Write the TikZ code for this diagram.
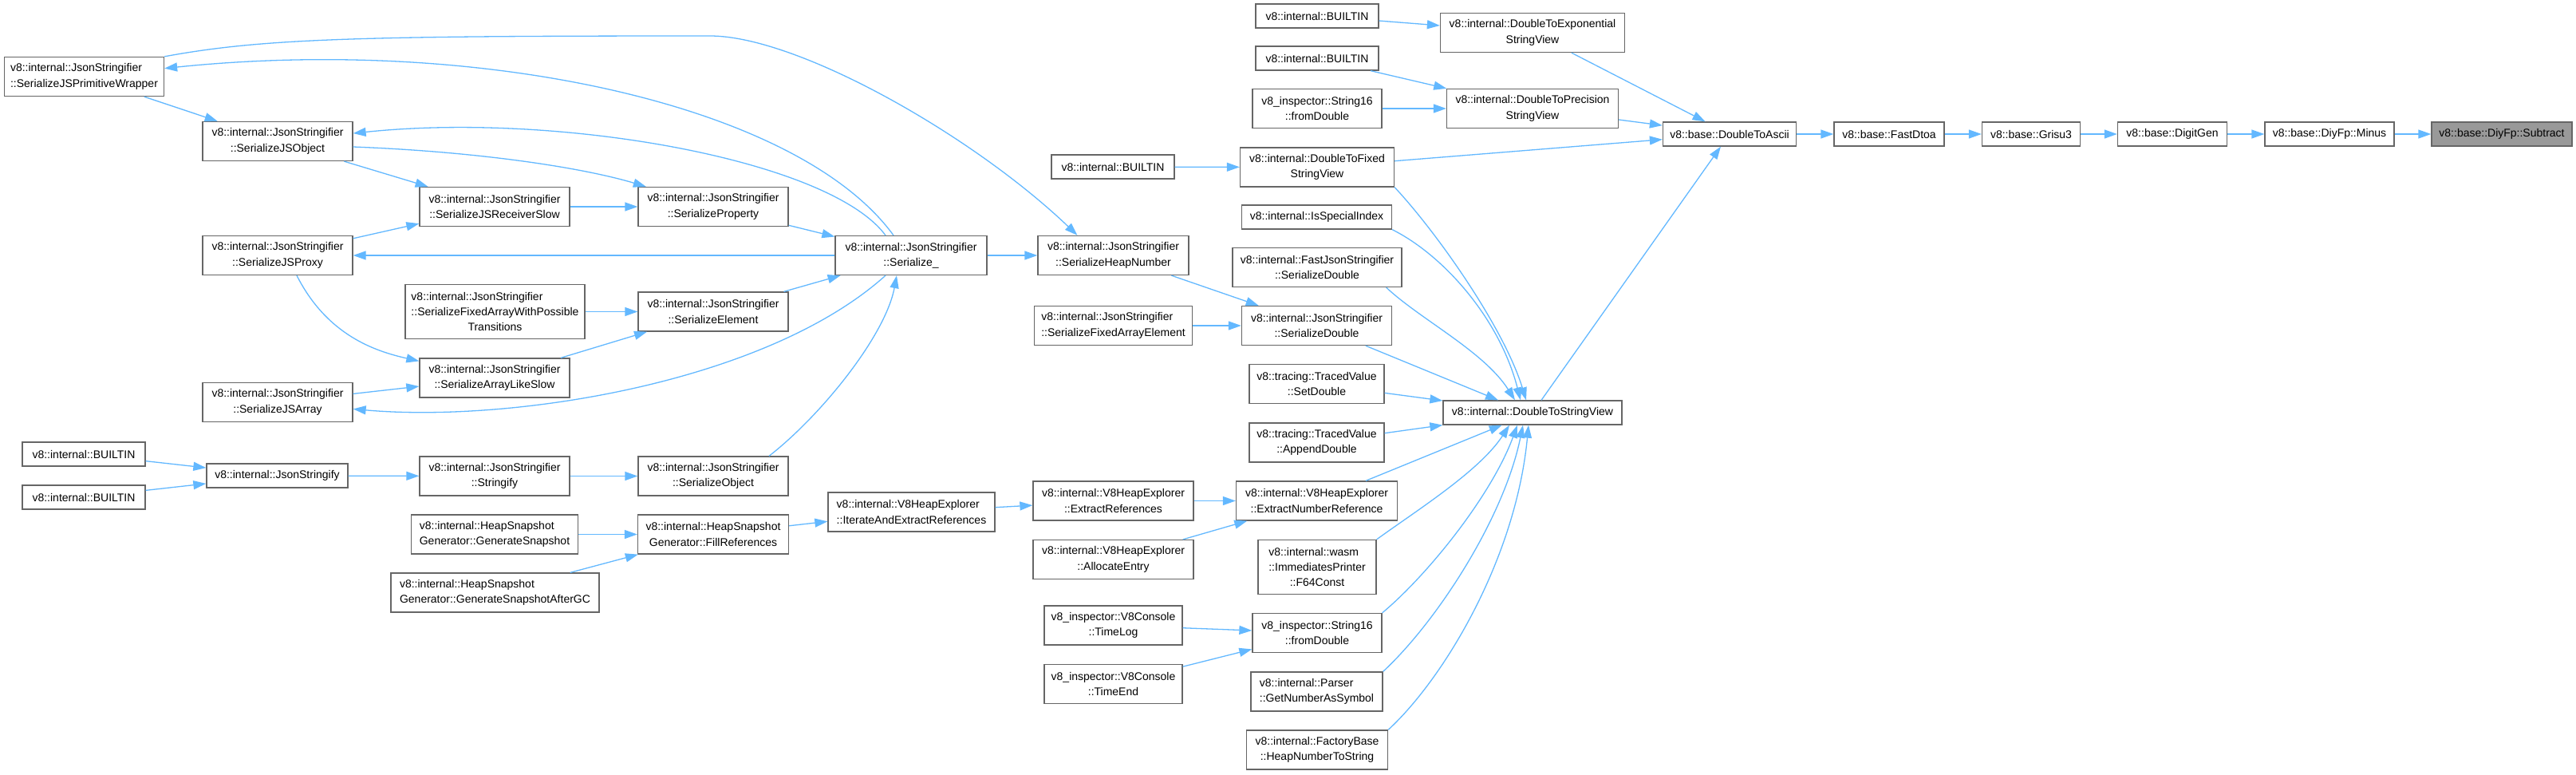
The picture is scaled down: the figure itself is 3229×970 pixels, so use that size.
\documentclass[tikz,border=0pt]{standalone}
\usepackage{fontspec}
\setmainfont{Liberation Sans}
\usetikzlibrary{arrows.meta}
\definecolor{edgeblue}{HTML}{63B8FF}
\definecolor{boxgray}{HTML}{666666}
\definecolor{focusgray}{HTML}{999999}
\newlength{\lfw}
\newcommand{\lfirst}[2]{\settowidth{\lfw}{#2}\makebox[\lfw][l]{#1}\\#2}

\begin{document}
\begin{tikzpicture}[x=1pt, y=-1pt]
    \tikzset{func/.style={rectangle, draw=boxgray, fill=white, line width=1.3pt, align=center, inner sep=0pt, minimum height=30pt, font=\fontsize{14}{19.3}\selectfont},
        focus/.style={func, fill=focusgray},
        lines2/.style={minimum height=49pt},
        lines3/.style={minimum height=68pt},
        calls/.style={draw=edgeblue, line width=1.3pt, -{Triangle[length=16pt, width=11pt]}}}
    \useasboundingbox (0,0) rectangle (3229,970);

    \node[focus, minimum width=176pt] (subtract) at (3136,168) {v8::base::DiyFp::Subtract};
    \node[func, minimum width=162pt] (minus) at (2920,168) {v8::base::DiyFp::Minus};
    \node[func, minimum width=137pt] (digitgen) at (2723,168) {v8::base::DigitGen};
    \node[func, minimum width=123pt] (grisu) at (2546,168) {v8::base::Grisu3};
    \node[func, minimum width=138pt] (fastdtoa) at (2368,168) {v8::base::FastDtoa};
    \node[func, minimum width=167pt] (dtoascii) at (2168,168) {v8::base::DoubleToAscii};

    \node[func, lines2, minimum width=231pt] (dtexp) at (1921,41) {v8::internal::DoubleToExponential\\StringView};
    \node[func, lines2, minimum width=215pt] (dtprec) at (1921,136) {v8::internal::DoubleToPrecision\\StringView};
    \node[func, lines2, minimum width=193pt] (dtfixed) at (1651,209.5) {v8::internal::DoubleToFixed\\StringView};
    \node[func, minimum width=224pt] (dtsv) at (1921,517) {v8::internal::DoubleToStringView};

    \node[func, minimum width=154pt] (builtina) at (1651,20) {v8::internal::BUILTIN};
    \node[func, minimum width=154pt] (builtinb) at (1651,73) {v8::internal::BUILTIN};
    \node[func, lines2, minimum width=162pt] (s16top) at (1651,136) {v8\_inspector::String16\\::fromDouble};
    \node[func, minimum width=154pt] (builtinc) at (1395,209) {v8::internal::BUILTIN};
    \node[func, minimum width=188pt] (isspecial) at (1650.5,272) {v8::internal::IsSpecialIndex};
    \node[func, lines2, minimum width=212pt] (fastjsd) at (1651,335) {v8::internal::FastJsonStringifier\\::SerializeDouble};
    \node[func, lines2, minimum width=188pt] (jsd) at (1650.5,408) {v8::internal::JsonStringifier\\::SerializeDouble};
    \node[func, lines2, minimum width=189pt] (heapnum) at (1395.5,320) {v8::internal::JsonStringifier\\::SerializeHeapNumber};
    \node[func, lines2, minimum width=198pt] (fixedelem) at (1395.5,408) {\lfirst{v8::internal::JsonStringifier}{::SerializeFixedArrayElement}};
    \node[func, lines2, minimum width=169pt] (setdbl) at (1650.5,481) {v8::tracing::TracedValue\\::SetDouble};
    \node[func, lines2, minimum width=169pt] (appdbl) at (1650.5,554.5) {v8::tracing::TracedValue\\::AppendDouble};
    \node[func, lines2, minimum width=202pt] (numref) at (1650.5,627.5) {v8::internal::V8HeapExplorer\\::ExtractNumberReference};
    \node[func, lines2, minimum width=201pt] (extrefs) at (1395.5,627.5) {v8::internal::V8HeapExplorer\\::ExtractReferences};
    \node[func, lines2, minimum width=201pt] (allocent) at (1395.5,701) {v8::internal::V8HeapExplorer\\::AllocateEntry};
    \node[func, lines2, minimum width=209pt] (iterext) at (1142.5,641.5) {\lfirst{v8::internal::V8HeapExplorer}{::IterateAndExtractReferences}};
    \node[func, lines3, minimum width=148pt] (f64const) at (1651,710.5) {\lfirst{v8::internal::wasm}{::ImmediatesPrinter}\\::F64Const};
    \node[func, lines2, minimum width=173pt] (timelog) at (1395.5,783.5) {v8\_inspector::V8Console\\::TimeLog};
    \node[func, lines2, minimum width=162pt] (s16bot) at (1651,793) {v8\_inspector::String16\\::fromDouble};
    \node[func, lines2, minimum width=173pt] (timeend) at (1395.5,857) {v8\_inspector::V8Console\\::TimeEnd};
    \node[func, lines2, minimum width=165pt] (getnum) at (1650.5,866.5) {\lfirst{v8::internal::Parser}{::GetNumberAsSymbol}};
    \node[func, lines2, minimum width=177pt] (heapstr) at (1651,939.5) {v8::internal::FactoryBase\\::HeapNumberToString};

    \node[func, lines2, minimum width=190pt] (serialize) at (1142,320) {v8::internal::JsonStringifier\\::Serialize\_};
    \node[func, lines2, minimum width=200pt] (primwrap) at (105.5,96) {\lfirst{v8::internal::JsonStringifier}{::SerializeJSPrimitiveWrapper}};
    \node[func, lines2, minimum width=188pt] (jsobject) at (348,177) {v8::internal::JsonStringifier\\::SerializeJSObject};
    \node[func, lines2, minimum width=188pt] (recvslow) at (620,259) {v8::internal::JsonStringifier\\::SerializeJSReceiverSlow};
    \node[func, lines2, minimum width=188pt] (property) at (894,259) {v8::internal::JsonStringifier\\::SerializeProperty};
    \node[func, lines2, minimum width=188pt] (jsproxy) at (348,320) {v8::internal::JsonStringifier\\::SerializeJSProxy};
    \node[func, lines3, minimum width=225pt] (possible) at (620.5,390.5) {\lfirst{v8::internal::JsonStringifier}{::SerializeFixedArrayWithPossible}\\Transitions};
    \node[func, lines2, minimum width=188pt] (element) at (894,390.5) {v8::internal::JsonStringifier\\::SerializeElement};
    \node[func, lines2, minimum width=188pt] (arraylike) at (620,473.5) {v8::internal::JsonStringifier\\::SerializeArrayLikeSlow};
    \node[func, lines2, minimum width=188pt] (jsarray) at (348,504) {v8::internal::JsonStringifier\\::SerializeJSArray};
    \node[func, minimum width=154pt] (builtind) at (105,569) {v8::internal::BUILTIN};
    \node[func, minimum width=154pt] (builtine) at (105,623) {v8::internal::BUILTIN};
    \node[func, minimum width=177pt] (jsonstringify) at (347.5,596) {v8::internal::JsonStringify};
    \node[func, lines2, minimum width=188pt] (stringify) at (620,596.5) {v8::internal::JsonStringifier\\::Stringify};
    \node[func, lines2, minimum width=188pt] (serobject) at (894,596.5) {v8::internal::JsonStringifier\\::SerializeObject};
    \node[func, lines2, minimum width=209pt] (gensnap) at (620,669.5) {\lfirst{v8::internal::HeapSnapshot}{Generator::GenerateSnapshot}};
    \node[func, lines2, minimum width=189pt] (fillrefs) at (894,669.5) {v8::internal::HeapSnapshot\\Generator::FillReferences};
    \node[func, lines2, minimum width=261pt] (gensnapgc) at (620.5,742.5) {\lfirst{v8::internal::HeapSnapshot}{Generator::GenerateSnapshotAfterGC}};

    \draw[calls] (dtoascii) -- (fastdtoa);
    \draw[calls] (fastdtoa) -- (grisu);
    \draw[calls] (grisu) -- (digitgen);
    \draw[calls] (digitgen) -- (minus);
    \draw[calls] (minus) -- (subtract);
    \draw[calls] (dtexp) -- (dtoascii);
    \draw[calls] (dtprec) -- (dtoascii);
    \draw[calls] (dtfixed) -- (dtoascii);
    \draw[calls] (dtsv) -- (dtoascii);
    \draw[calls] (builtina) -- (dtexp);
    \draw[calls] (builtinb) -- (dtprec);
    \draw[calls] (s16top) -- (dtprec);
    \draw[calls] (builtinc) -- (dtfixed);

    \draw[calls] (dtfixed.south east) .. controls (1800,290) and (1885,410) .. ([xshift=-8pt]dtsv.north);
    \draw[calls] (isspecial.south east) .. controls (1810,320) and (1880,400) .. ([xshift=-15pt]dtsv.north);
    \draw[calls] ([xshift=-20pt]fastjsd.south east) .. controls (1780,400) and (1860,440) .. ([xshift=-22pt]dtsv.north);
    \draw[calls] (jsd) -- ([xshift=-43pt]dtsv.north);
    \draw[calls] (setdbl) -- (dtsv);
    \draw[calls] (appdbl) -- (dtsv);
    \draw[calls] (numref) -- (dtsv);
    \draw[calls] (f64const.north east) .. controls (1775,640) and (1855,590) .. ([xshift=-29pt]dtsv.south);
    \draw[calls] (s16bot.north east) .. controls (1790,720) and (1870,620) .. ([xshift=-19pt]dtsv.south);
    \draw[calls] (getnum.north east) .. controls (1800,780) and (1885,650) .. ([xshift=-12pt]dtsv.south);
    \draw[calls] (heapstr.north east) .. controls (1810,850) and (1900,700) .. ([xshift=-5pt]dtsv.south);

    \draw[calls] (heapnum) -- (jsd);
    \draw[calls] (fixedelem) -- (jsd);
    \draw[calls] (serialize) -- (heapnum);
    \draw[calls] (primwrap.north east) .. controls (330,48) and (450,45) .. (890,45) .. controls (1000,45) and (1220,170) .. ([xshift=-45pt]heapnum.north);
    \draw[calls] (extrefs) -- (numref);
    \draw[calls] (allocent) -- (numref);
    \draw[calls] (iterext) -- (extrefs);
    \draw[calls] (fillrefs) -- (iterext);
    \draw[calls] (gensnap) -- (fillrefs);
    \draw[calls] (gensnapgc) -- (fillrefs);
    \draw[calls] (timelog) -- (s16bot);
    \draw[calls] (timeend) -- (s16bot);

    \draw[calls] (primwrap) -- (jsobject);
    \draw[calls] ([xshift=-22pt]serialize.north) .. controls (1000,130) and (600,45) .. (primwrap);
    \draw[calls] ([xshift=-32pt]serialize.north) .. controls (1040,200) and (700,140) .. (jsobject);
    \draw[calls] (jsobject) -- (recvslow);
    \draw[calls] ([yshift=-7pt]jsobject.east) .. controls (600,190) and (730,210) .. (property);
    \draw[calls] (recvslow) -- (property);
    \draw[calls] (property) -- (serialize);
    \draw[calls] (jsproxy) -- (recvslow);
    \draw[calls] (serialize) -- (jsproxy);
    \draw[calls] ([xshift=24pt]jsproxy.south) .. controls (410,420) and (470,440) .. (arraylike);
    \draw[calls] (possible) -- (element);
    \draw[calls] (element) -- (serialize);
    \draw[calls] (arraylike) -- (element);
    \draw[calls] (jsarray) -- (arraylike);
    \draw[calls] ([xshift=-32pt]serialize.south) .. controls (960,480) and (640,530) .. (jsarray);
    \draw[calls] ([xshift=70pt]serobject.north) .. controls (1030,520) and (1110,420) .. ([xshift=-18pt]serialize.south);
    \draw[calls] (builtind) -- (jsonstringify);
    \draw[calls] (builtine) -- (jsonstringify);
    \draw[calls] (jsonstringify) -- (stringify);
    \draw[calls] (stringify) -- (serobject);
\end{tikzpicture}
\end{document}
